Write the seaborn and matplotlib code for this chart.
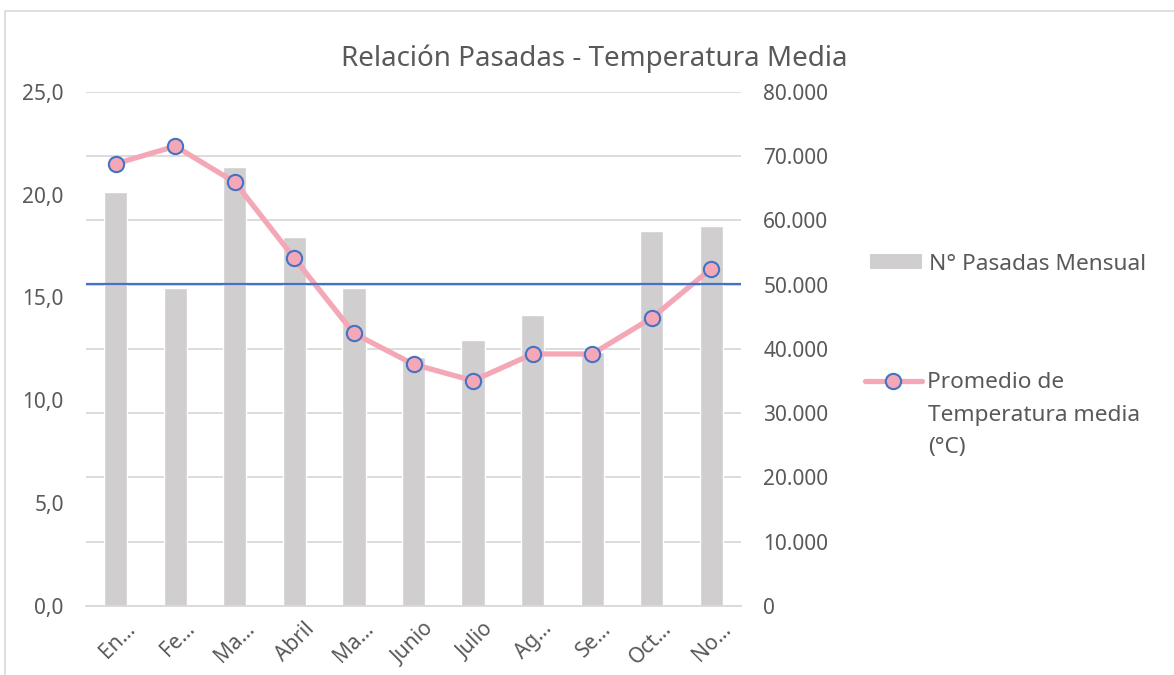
import numpy as np
import seaborn as sns
import matplotlib.pyplot as plt
import matplotlib.transforms as mtransforms
from matplotlib.lines import Line2D
from matplotlib.patches import Patch, Rectangle
from matplotlib.ticker import FuncFormatter

# data
months = ["Enero", "Febrero", "Marzo", "Abril", "Mayo", "Junio",
          "Julio", "Agosto", "Septiembre", "Octubre", "Noviembre"]
month_labels = ["En…", "Fe…", "Ma…", "Abril", "Ma…", "Junio",
                "Julio", "Ag…", "Se…", "Oct…", "No…"]
pasadas = [64350, 49420, 68290, 57400, 49420, 38730,
           41330, 45210, 39560, 58330, 59060]
temp_media = [21.5, 22.35, 20.6, 16.9, 13.25, 11.75,
              10.95, 12.25, 12.25, 14.0, 16.4]

TXT = "#595959"
GRID = "#D9D9D9"
BAR = "#D0CECE"
PINK = "#F4A7B6"
BLUE = "#4472C4"
W, H = 1174, 675

sns.set_theme(style="white")
plt.rcParams["font.family"] = ["Noto Sans", "DejaVu Sans"]

fig = plt.figure(figsize=(W / 100, H / 100), dpi=100)
ax = fig.add_axes([86 / W, 1 - 606 / H, (741 - 86) / W, (606 - 91.7) / H])
ax2 = ax.twinx()

# bars -> right axis, line -> left axis
sns.barplot(x=months, y=pasadas, ax=ax2, color=BAR, width=0.39, saturation=1)
sns.lineplot(x=months, y=temp_media, ax=ax, sort=False, color=PINK,
             linewidth=3.8, marker="o", markersize=11,
             markerfacecolor=PINK, markeredgecolor=BLUE, markeredgewidth=1.5)
ax.axhline(np.mean(temp_media), color=BLUE, lw=1.6)

ax.set_zorder(ax2.get_zorder() + 1)
ax.patch.set_visible(False)

ax.set_ylim(0, 25)
ax.set_yticks(np.arange(0, 26, 5))
ax.yaxis.set_major_formatter(FuncFormatter(lambda v, p: f"{v:.1f}".replace(".", ",")))
ax2.set_ylim(0, 80000)
ax2.set_yticks(np.arange(0, 80001, 10000))
ax2.yaxis.set_major_formatter(FuncFormatter(lambda v, p: f"{int(v):,}".replace(",", ".")))
ax.set_xlim(-0.5, len(months) - 0.5)

ax2.set_axisbelow(True)
ax2.grid(axis="y", color=GRID, lw=1.3)
ax.grid(False)
for a in (ax, ax2):
    for s in a.spines.values():
        s.set_visible(False)
    a.set_xlabel("")
    a.set_ylabel("")
ax2.spines["bottom"].set_visible(True)
ax2.spines["bottom"].set_color(GRID)
ax2.spines["bottom"].set_linewidth(1.3)

ax.tick_params(axis="y", length=0, pad=16, labelsize=15, labelcolor=TXT)
ax2.tick_params(axis="y", length=0, pad=16, labelsize=15, labelcolor=TXT)
ax.set_xticks(range(len(months)))
ax.set_xticklabels(month_labels, rotation=45, ha="right", va="top",
                   rotation_mode="anchor")
ax.tick_params(axis="x", length=0, pad=9, labelsize=15, labelcolor=TXT)
shift = mtransforms.ScaledTranslation(9 / 100, 0, fig.dpi_scale_trans)
for lbl in ax.get_xticklabels():
    lbl.set_transform(lbl.get_transform() + shift)

# title
fig.text(594 / W, 1 - 66 / H, "Relación Pasadas - Temperatura Media",
         ha="center", va="baseline", fontsize=20, color=TXT)

# legend on the right
fig.legend(handles=[Patch(facecolor=BAR, edgecolor="none")],
           labels=["N° Pasadas Mensual"], loc="center left",
           bbox_to_anchor=(870 / W, 1 - 264 / H), frameon=False, fontsize=16.3,
           handlelength=2.3, handleheight=0.62, handletextpad=0.3,
           borderpad=0, borderaxespad=0, labelcolor=TXT)
line_handle = Line2D([], [], color=PINK, lw=3.8, marker="o", markersize=11,
                     markerfacecolor=PINK, markeredgecolor=BLUE, markeredgewidth=1.5)
fig.legend(handles=[line_handle], labels=["Promedio de"], loc="center left",
           bbox_to_anchor=(865 / W, 1 - 383 / H), frameon=False, fontsize=16.3,
           handlelength=2.5, handletextpad=0.25,
           borderpad=0, borderaxespad=0, labelcolor=TXT)
fig.text(928 / W, 1 - 415 / H, "Temperatura media", va="center", fontsize=16.3, color=TXT)
fig.text(928 / W, 1 - 448 / H, "(°C)", va="center", fontsize=16.3, color=TXT)

# chart area border (left and top edges visible)
fig.add_artist(Rectangle((5 / W, -0.1), 1.2, 1.1 - 10.7 / H, transform=fig.transFigure,
                         fill=False, edgecolor=GRID, lw=1.2))

fig.savefig("out.png", dpi=100)
